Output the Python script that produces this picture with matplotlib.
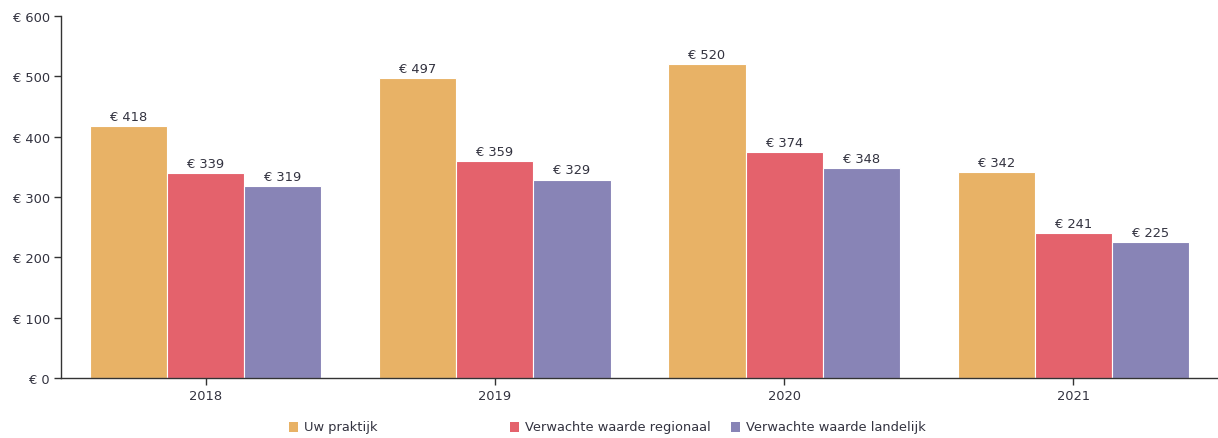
import matplotlib
matplotlib.use("Agg")
import matplotlib.pyplot as plt
import numpy as np
from matplotlib.patches import Rectangle

years = ["2018", "2019", "2020", "2021"]
uw_praktijk = [418, 497, 520, 342]
regionaal = [339, 359, 374, 241]
landelijk = [319, 329, 348, 225]
series_names = ["Uw praktijk", "Verwachte waarde regionaal", "Verwachte waarde landelijk"]
colors = ["#E8B266", "#E4626C", "#8884B6"]
yticks = [0, 100, 200, 300, 400, 500, 600]

plt.rcParams['font.family'] = ['DejaVu Sans']
fs = 9.4
tc = "#333340"

W, H = 1218, 439
fig = plt.figure(figsize=(W/100, H/100), dpi=100)
ax = fig.add_axes([61/W, (H-379)/H, (1218-61)/W, (379-17)/H])

x = np.arange(len(years))
bw = 0.8/3
data = [uw_praktijk, regionaal, landelijk]
for i, (vals, c) in enumerate(zip(data, colors)):
    pos = x + (i-1)*bw
    ax.bar(pos, vals, width=bw, color=c, edgecolor="white", linewidth=0.8)
    for p, v in zip(pos, vals):
        ax.text(p, v+5, f"€ {v}", ha="center", va="bottom", fontsize=fs, color=tc)

ax.set_xlim(-0.5, 3.5)
ax.set_ylim(0, 600)
ax.set_yticks(yticks)
ax.set_yticklabels([f"€ {t}" for t in yticks], fontsize=fs, color=tc)
ax.set_xticks(x)
ax.set_xticklabels(years, fontsize=fs, color=tc)
for s in ["top", "right"]:
    ax.spines[s].set_visible(False)
for s in ["left", "bottom"]:
    ax.spines[s].set_color("#333333")
    ax.spines[s].set_linewidth(1.0)
ax.tick_params(axis="both", length=5, width=1.0, color="#333333", pad=3)

# legend
leg_x = [289, 510, 731]
leg_y = 428
for lx, name, c in zip(leg_x, series_names, colors):
    fig.patches.append(Rectangle((lx/W, (H-leg_y-5)/H), 9/W, 10/H, transform=fig.transFigure,
                                 facecolor=c, edgecolor="none"))
    fig.text((lx+15)/W, (H-leg_y)/H, name, fontsize=fs, color=tc, va="center", ha="left")

fig.savefig("out.png", dpi=100)
